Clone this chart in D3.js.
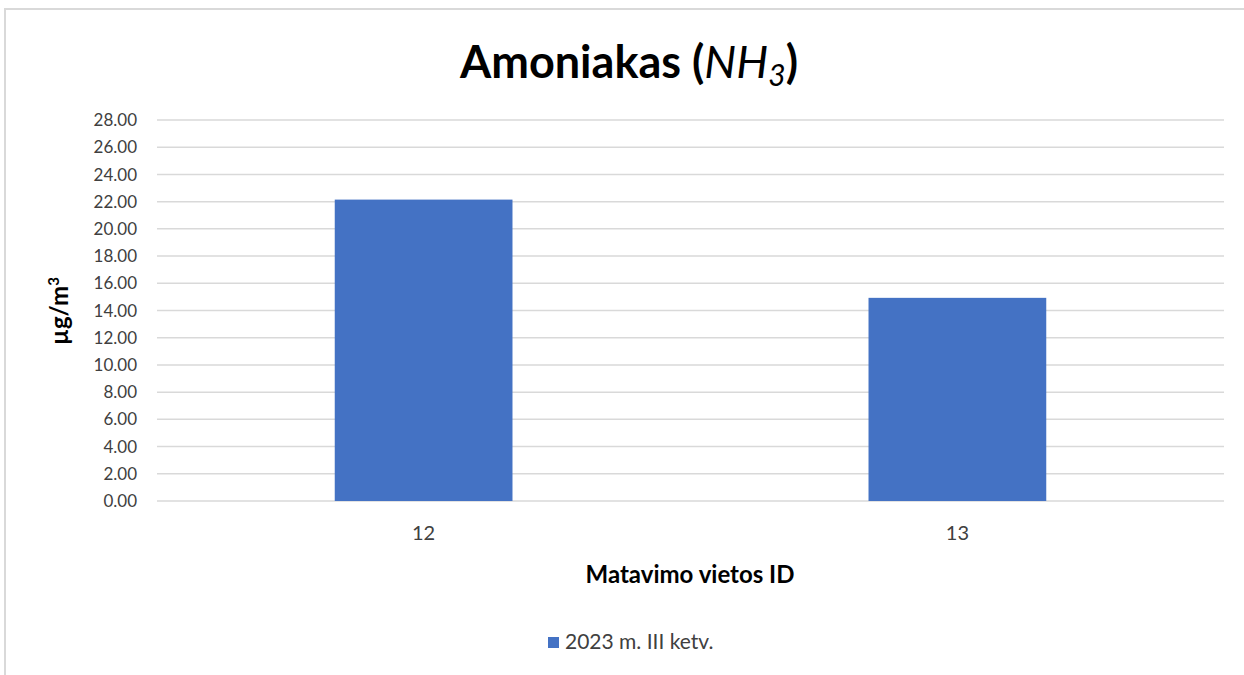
<!DOCTYPE html>
<html>
<head>
<meta charset="utf-8">
<script src="https://d3js.org/d3.v7.min.js"></script>
<style>
  body { margin: 0; background: #fff; }
  text { font-family: Lato, "Open Sans", sans-serif; fill: #404040; }
</style>
</head>
<body>
<div id="chart"></div>
<script>
const categories = ["12", "13"];
const values = [22.15, 14.93];
const seriesName = "2023 m. III ketv.";
const yTicks = d3.range(0, 28.01, 2);

const width = 1244, height = 675;
const margin = {top: 120, right: 20, bottom: 174, left: 157};

const svg = d3.select("#chart").append("svg")
    .attr("width", width)
    .attr("height", height);

// chart border
svg.append("rect")
    .attr("x", 5).attr("y", 9)
    .attr("width", 1260).attr("height", 700)
    .attr("fill", "#fff")
    .attr("stroke", "#d9d9d9")
    .attr("stroke-width", 2);

const x = d3.scaleBand()
    .domain(categories)
    .range([margin.left, 1224])
    .paddingInner(0.667)
    .paddingOuter(0.333);

const y = d3.scaleLinear()
    .domain([0, 28])
    .range([501, 120]);

// gridlines
svg.append("g")
    .selectAll("line")
    .data(yTicks)
    .enter().append("line")
    .attr("x1", margin.left)
    .attr("x2", 1224)
    .attr("y1", d => y(d))
    .attr("y2", d => y(d))
    .attr("stroke", "#d9d9d9")
    .attr("stroke-width", 1.5);

// y tick labels
svg.append("g")
    .selectAll("text")
    .data(yTicks)
    .enter().append("text")
    .attr("x", 137)
    .attr("y", d => y(d))
    .attr("dy", "0.36em")
    .attr("text-anchor", "end")
    .style("font-size", "17px")
    .text(d => d.toFixed(2));

// bars
svg.append("g")
    .selectAll("rect")
    .data(values)
    .enter().append("rect")
    .attr("x", (d, i) => x(categories[i]))
    .attr("y", d => y(d))
    .attr("width", x.bandwidth())
    .attr("height", d => y(0) - y(d))
    .attr("fill", "#4472c4");

// x tick labels
svg.append("g")
    .selectAll("text")
    .data(categories)
    .enter().append("text")
    .attr("x", d => x(d) + x.bandwidth() / 2)
    .attr("y", 540)
    .attr("text-anchor", "middle")
    .style("font-size", "20px")
    .text(d => d);

// title
const title = svg.append("text")
    .attr("x", 629)
    .attr("y", 78)
    .attr("text-anchor", "middle")
    .style("font-size", "45px")
    .style("fill", "#000");
title.append("tspan").style("font-weight", "bold").text("Amoniakas (");
title.append("tspan").style("font-style", "italic").text("NH");
title.append("tspan").style("font-style", "italic").style("font-size", "30px").attr("dy", 8).text("3");
title.append("tspan").style("font-weight", "bold").attr("dy", -8).text(")");

// axis titles
svg.append("text")
    .attr("x", 690)
    .attr("y", 583)
    .attr("text-anchor", "middle")
    .style("font-size", "24px")
    .style("font-weight", "bold")
    .style("fill", "#000")
    .text("Matavimo vietos ID");

const yl = svg.append("text")
    .attr("transform", "translate(68,311) rotate(-90)")
    .attr("text-anchor", "middle")
    .style("font-size", "24px")
    .style("font-weight", "bold")
    .style("fill", "#000");
yl.append("tspan").text("µg/m");
yl.append("tspan").attr("dy", -9).style("font-size", "15px").text("3");

// legend
svg.append("rect")
    .attr("x", 548).attr("y", 637)
    .attr("width", 11).attr("height", 11)
    .attr("fill", "#4472c4");
svg.append("text")
    .attr("x", 565)
    .attr("y", 649)
    .style("font-size", "21px")
    .text(seriesName);
</script>
</body>
</html>
